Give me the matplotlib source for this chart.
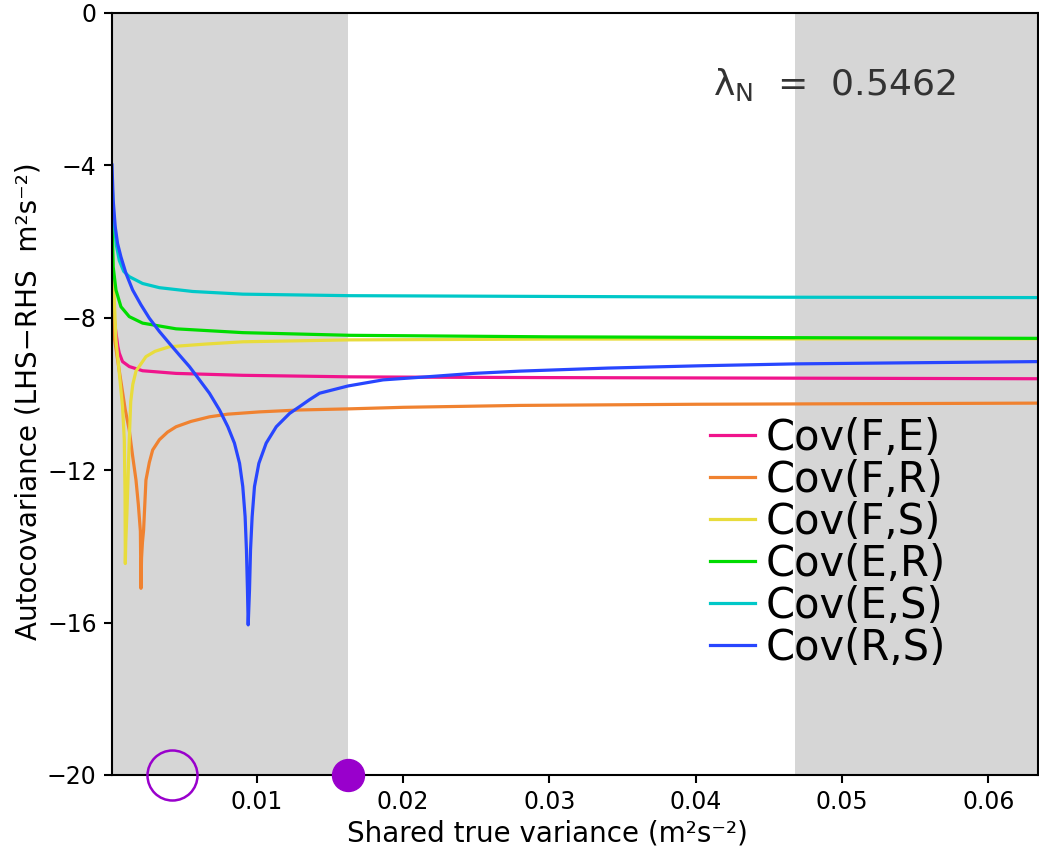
"""
Autocovariance residual (LHS-RHS) against the shared true variance,
one curve per pair of variables.
"""
import matplotlib
matplotlib.use("Agg")
import matplotlib.pyplot as plt

plt.rcParams["font.family"] = ["DejaVu Sans"]

# data
labels = ["Cov(F,E)", "Cov(F,R)", "Cov(F,S)", "Cov(E,R)", "Cov(E,S)", "Cov(R,S)"]

x_fe = [0.0001, 0.0003, 0.0005, 0.0006, 0.00082, 0.00128, 0.00219, 0.00448, 0.00904, 0.01635,
        0.0216, 0.03, 0.0634]
y_fe = [-7.3, -8.2, -8.75, -8.93, -9.15, -9.28, -9.39, -9.46, -9.51, -9.55,
        -9.56, -9.57, -9.6]

x_fr = [0.0001, 0.00025, 0.0006, 0.001, 0.00128, 0.0015, 0.00174, 0.0019, 0.00204, 0.00208,
        0.00212, 0.00218, 0.00226, 0.00242, 0.00265, 0.00288, 0.00334, 0.0039, 0.00448, 0.0055,
        0.00676, 0.008, 0.01018, 0.0129, 0.01635, 0.02, 0.028, 0.04, 0.0634]
y_fr = [-6.8, -8.5, -9.4, -10.4, -10.95, -11.6, -12.26, -12.9, -13.6, -15.1,
        -14.3, -13.9, -13.57, -12.26, -11.8, -11.47, -11.2, -11.0, -10.86, -10.72,
        -10.6, -10.53, -10.47, -10.42, -10.39, -10.35, -10.3, -10.27, -10.24]

x_fs = [0.0001, 0.0002, 0.00037, 0.0006, 0.00082, 0.00094, 0.00099, 0.00101, 0.00104, 0.00112,
        0.00128, 0.00138, 0.00152, 0.00174, 0.00242, 0.00304, 0.00402, 0.0065, 0.00904, 0.01635,
        0.03, 0.0634]
y_fs = [-6.0, -7.0, -8.58, -9.46, -10.33, -11.2, -12.6, -14.45, -13.9, -13.12,
        -11.2, -10.2, -9.75, -9.4, -9.02, -8.88, -8.76, -8.69, -8.63, -8.58,
        -8.56, -8.55]

x_er = [0.0001, 0.00018, 0.00037, 0.00071, 0.00128, 0.00219, 0.00448, 0.00904, 0.01635, 0.03,
        0.045, 0.0634]
y_er = [-5.35, -6.66, -7.27, -7.71, -7.97, -8.14, -8.29, -8.39, -8.46, -8.5,
        -8.52, -8.54]

x_es = [0.0001, 0.0002, 0.0004, 0.0006, 0.0009, 0.00128, 0.00219, 0.00334, 0.00562, 0.00904,
        0.01635, 0.03, 0.045, 0.0634]
y_es = [-4.4, -5.3, -6.1, -6.5, -6.78, -6.92, -7.1, -7.21, -7.31, -7.38,
        -7.42, -7.44, -7.46, -7.47]

x_rs = [0.0001, 0.00018, 0.00032, 0.00048, 0.00071, 0.00105, 0.00151, 0.00208, 0.00265, 0.00334,
        0.00402, 0.00471, 0.00539, 0.00608, 0.00676, 0.00745, 0.00802, 0.00847, 0.00882, 0.00904,
        0.0092, 0.00929, 0.00936, 0.00941, 0.0095, 0.00957, 0.00968, 0.00984, 0.01014, 0.01064,
        0.01133, 0.01224, 0.01293, 0.0136, 0.01429, 0.01623, 0.01863, 0.0216, 0.0248, 0.028,
        0.034, 0.0403, 0.0468, 0.055, 0.0634]
y_rs = [-3.99, -4.91, -5.61, -6.05, -6.4, -6.83, -7.27, -7.66, -8.01, -8.36,
        -8.67, -8.98, -9.28, -9.63, -9.98, -10.42, -10.86, -11.29, -11.82, -12.43,
        -13.22, -14.09, -15.14, -16.06, -15.14, -14.09, -13.22, -12.43, -11.82, -11.29,
        -10.86, -10.51, -10.33, -10.15, -9.98, -9.79, -9.63, -9.55, -9.46, -9.4,
        -9.32, -9.26, -9.21, -9.18, -9.15]

# shaded ranges and the two markers on the x axis
shade_left = [0.0, 0.01623]
shade_right = [0.04677, 0.0634]
marker_x = [0.00418, 0.0162]
marker_y = [-20, -20]
lambda_n = 0.5462

colors = ["#f0148c", "#f08230", "#e8dc3c", "#00dc00", "#00c8c8", "#2846ff"]
purple = "#9900cc"

fig = plt.figure(figsize=(10.39, 8.59), dpi=100)
ax = fig.add_axes([0.1078, 0.0978, 0.8912, 0.8871])

ax.axvspan(shade_left[0], shade_left[1], color="#d6d6d6", lw=0, zorder=0)
ax.axvspan(shade_right[0], shade_right[1], color="#d6d6d6", lw=0, zorder=0)

series = [(x_fe, y_fe), (x_fr, y_fr), (x_fs, y_fs), (x_er, y_er), (x_es, y_es), (x_rs, y_rs)]
for (xs, ys), c, lab in zip(series, colors, labels):
    ax.plot(xs, ys, color=c, lw=2.3, label=lab, solid_joinstyle="round", zorder=2)

# open and filled circles sitting on the bottom axis
ax.plot(marker_x[0], marker_y[0], "o", ms=36, mfc="none", mec=purple, mew=1.8, clip_on=False, zorder=5)
ax.plot(marker_x[1], marker_y[1], "o", ms=23, mfc=purple, mec=purple, clip_on=False, zorder=5)

ax.set_xlim(0.0001, 0.0634)
ax.set_ylim(-20, 0)
ax.set_xticks([0.01, 0.02, 0.03, 0.04, 0.05, 0.06])
ax.set_xticklabels(["0.01", "0.02", "0.03", "0.04", "0.05", "0.06"])
ax.set_yticks([0, -4, -8, -12, -16, -20])
ax.tick_params(direction="out", length=6, width=1.5, labelsize=17, pad=5)
for sp in ax.spines.values():
    sp.set_linewidth(1.5)

ax.set_xlabel("Shared true variance (m\u00b2s\u207b\u00b2)", fontsize=20)
ax.set_ylabel("Autocovariance (LHS\u2212RHS  m\u00b2s\u207b\u00b2)", fontsize=20)
ax.xaxis.set_label_coords(0.47, -0.058)
ax.yaxis.set_label_coords(-0.0756, 0.49)

ax.text(0.0412, -1.89, "\u03bb$_\\mathrm{N}$  =  %.4f" % lambda_n, fontsize=26,
        color="#333333", va="center", ha="left")

ax.legend(loc="upper left", bbox_to_anchor=(0.6833, 0.5151), bbox_transform=fig.transFigure,
          frameon=False, fontsize=30, handlelength=1.08, handletextpad=0.25,
          labelspacing=0.0, borderpad=0, borderaxespad=0)

fig.savefig("out.png", dpi=100)
